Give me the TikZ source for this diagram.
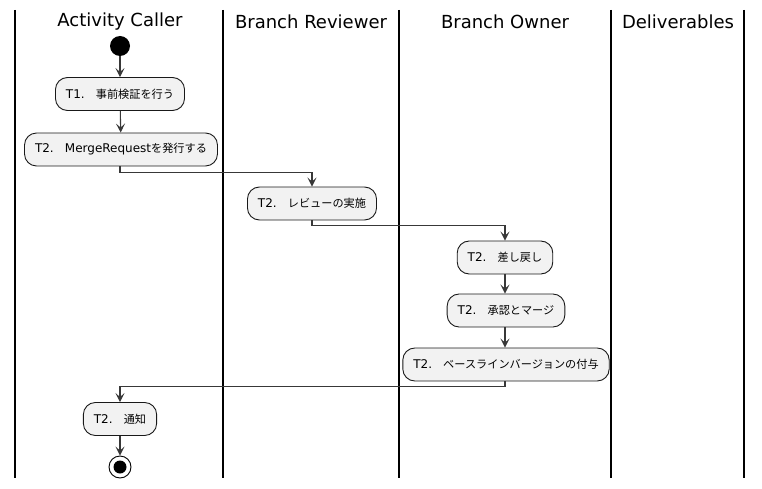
\documentclass[tikz,border=0pt]{standalone}
\usepackage{fontspec}
\setmainfont{DejaVu Sans}
\newfontfamily\jp[Scale=0.93]{Noto Sans CJK JP}
\usetikzlibrary{arrows.meta}

\begin{document}
\begin{tikzpicture}[
    x=1pt, y=-1pt,
    lane/.style={line width=1.6pt, black},
    lanetitle/.style={font=\fontsize{18}{20}\selectfont, anchor=center},
    activity/.style={rectangle, rounded corners=12pt, draw=black!90, line width=0.9pt,
        fill=black!5, minimum height=33pt, inner xsep=10.5pt,
        font=\fontsize{12}{14}\selectfont},
    startdot/.style={circle, fill=black, minimum size=20pt, inner sep=0pt},
    enddot/.style={circle, draw=black, line width=0.9pt, fill=white, minimum size=22pt, inner sep=0pt,
        path picture={\fill[black] (path picture bounding box.center) circle (6.5pt);}},
    flow/.style={-{Stealth[length=9pt, width=9pt, inset=4pt]}, line width=1.1pt, black!78}
]
\useasboundingbox (0,0) rectangle (762,489);

% レーン
\foreach \x in {15,223,399,611,744} {
    \draw[lane] (\x,10) -- (\x,478);
}
\node[lanetitle] (hcaller) at (120,22) {Activity Caller};
\node[lanetitle] (hreviewer) at (311,22) {Branch Reviewer};
\node[lanetitle] (howner) at (505,22) {Branch Owner};
\node[lanetitle] (hdeliv) at (678,22) {Deliverables};

% アクティビティ
\node[startdot] (start) at (120,46) {};
\node[activity] (precheck) at (120,94) {T1.{\jp 　事前検証を行う}};
\node[activity] (mrequest) at (121,149.5) {T2.{\jp 　}MergeRequest{\jp を発行する}};
\node[activity] (review) at (312,203.5) {T2.{\jp 　レビューの実施}};
\node[activity] (sendback) at (505,257.5) {T2.{\jp 　差し戻し}};
\node[activity] (approve) at (506,310.5) {T2.{\jp 　承認とマージ}};
\node[activity] (baseline) at (506,364.5) {T2.{\jp 　ベースラインバージョンの付与}};
\node[activity] (notify) at (120,419) {T2.{\jp 　通知}};
\node[enddot] (stop) at (120,467) {};

% 矢印
\draw[flow] (start) -- (precheck);
\draw[flow] (precheck) -- (mrequest);
\draw[flow] (mrequest.south -| start) -- ++(0,6) -| (review.north);
\draw[flow] (review.south) -- ++(0,5) -| (sendback.north);
\draw[flow] (sendback) -- (sendback |- approve.north);
\draw[flow] (approve.south -| sendback) -- (sendback |- baseline.north);
\draw[flow] (baseline.south -| sendback) -- ++(0,5) -| (notify.north);
\draw[flow] (notify) -- (stop);

\end{tikzpicture}
\end{document}
